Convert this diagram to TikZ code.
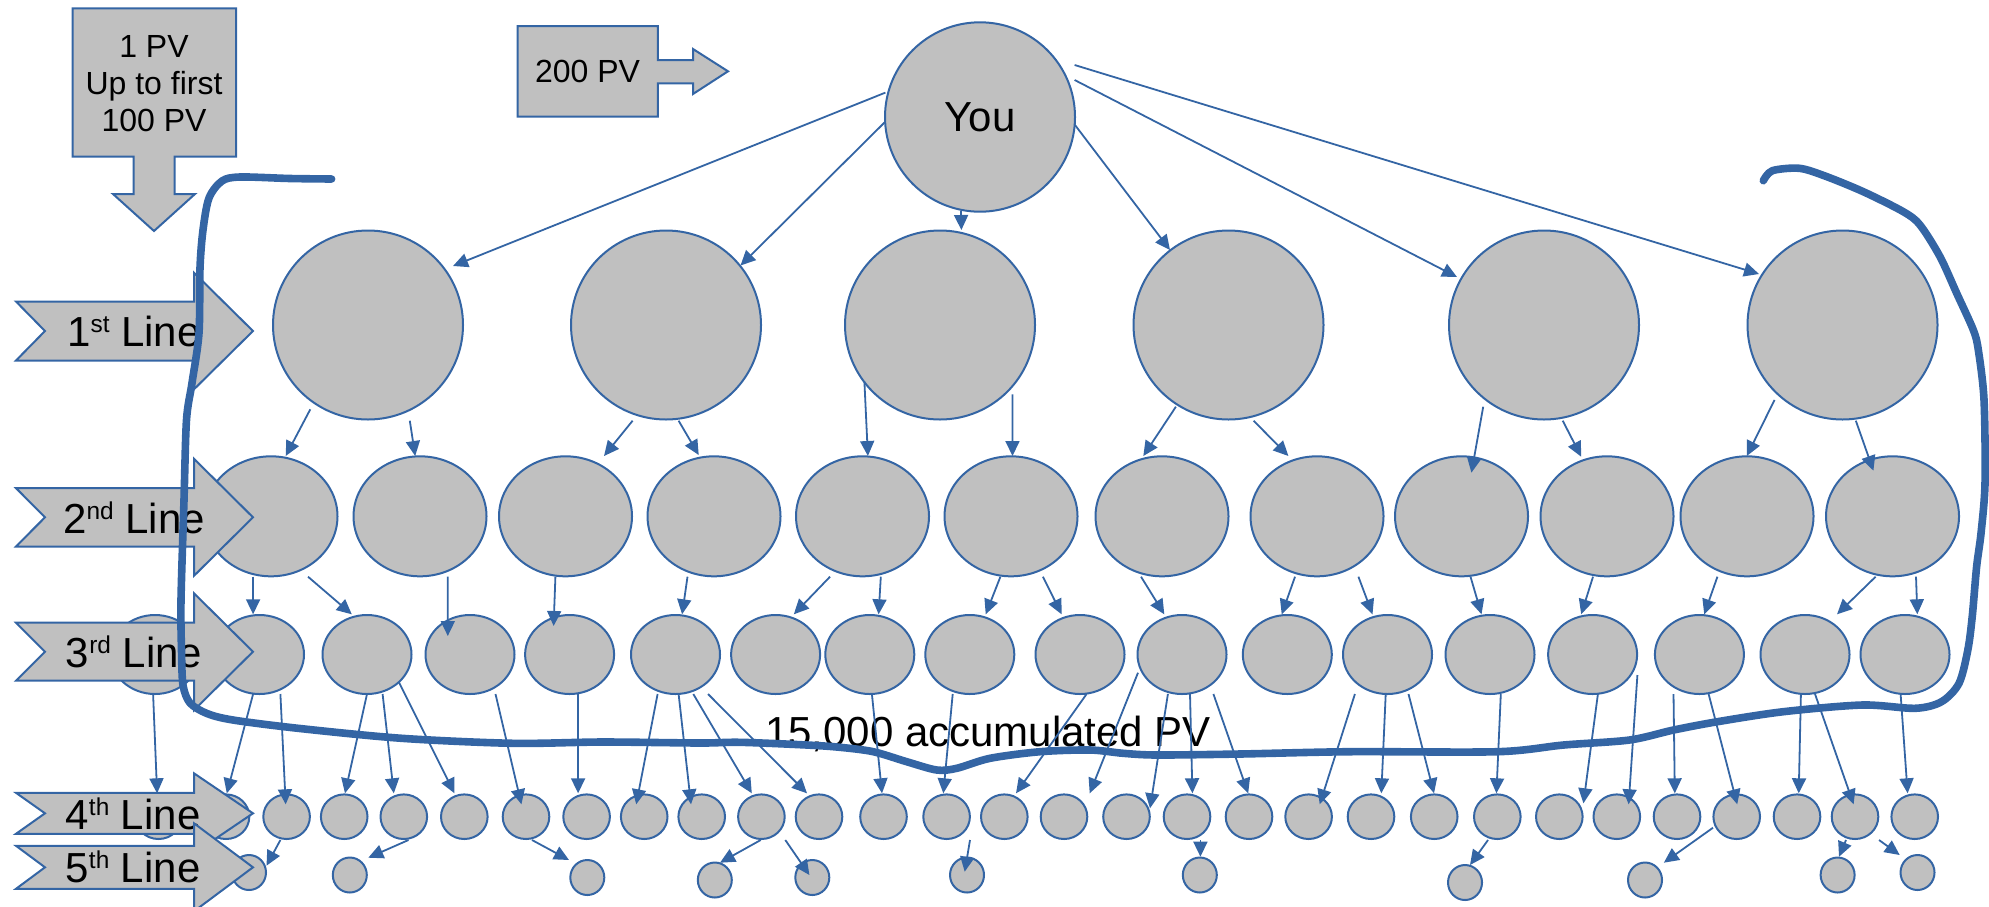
\documentclass[tikz,border=0pt]{standalone}
\usepackage{fontspec}
\setmainfont{Liberation Sans}
\usetikzlibrary{shapes.geometric,arrows.meta,calc}
\definecolor{lblue}{RGB}{52,101,164}
\definecolor{lgray}{RGB}{192,192,192}
\newcommand\conn[4]{\draw[con] ($(#1.center)+(#2)$) -- ($(#3.center)+(#4)$);}
\newcommand\levelarrow[3]{\draw[calloutshape] (16,#1-#2) -- (194,#1-#2) -- (194,#1-#3) -- (253,#1) -- (194,#1+#3) -- (194,#1+#2) -- (16,#1+#2) -- (45,#1) -- cycle;}
\newcommand\supx[1]{\raisebox{7pt}{\fontsize{12.2}{14}\selectfont #1}}
\tikzset{
 bub/.style={ellipse, draw=lblue, fill=lgray, line width=1pt, inner sep=0pt},
 bubA/.style={bub, minimum width=95pt, minimum height=94.5pt},
 bubB/.style={bub, minimum width=66.5pt, minimum height=60pt},
 bubC/.style={bub, minimum width=44.5pt, minimum height=39.5pt},
 bubD/.style={bub, minimum width=23.3pt, minimum height=22.3pt},
 bubE/.style={bub, minimum width=17pt, minimum height=17.5pt},
 con/.style={draw=lblue, line width=0.9pt, -{Triangle[length=7.5pt,width=7pt]}},
 calloutshape/.style={draw=lblue, fill=lgray, line width=1pt, line join=miter},
 bigtxt/.style={font=\fontsize{21}{25}\selectfont, inner sep=0pt, anchor=base},
 smalltxt/.style={font=\fontsize{16}{19}\selectfont, inner sep=0pt, anchor=base},
 thickline/.style={draw=lblue, line width=3.8pt, line cap=round, line join=round}
}
\begin{document}
\begin{tikzpicture}[x=0.5pt,y=-0.5pt]
\useasboundingbox (0,0) rectangle (1989,906);

% callouts
\draw[calloutshape] (72.7,8.3) -- (236,8.3) -- (236,156.7) -- (174.5,156.7) -- (174.5,194) -- (195,194) -- (154,231) -- (113,194) -- (133.5,194) -- (133.5,156.7) -- (72.7,156.7) -- cycle;
\node[smalltxt] (pv1) at (154,57.3) {1 PV};
\node[smalltxt] (pv2) at (154,94.3) {Up to first};
\node[smalltxt] (pv3) at (154,131.7) {100 PV};
\draw[calloutshape] (517.7,26) -- (657.8,26) -- (657.8,60) -- (693,60) -- (693,49) -- (728,71.3) -- (693,94) -- (693,83.3) -- (657.8,83.3) -- (657.8,116.7) -- (517.7,116.7) -- cycle;
\node[smalltxt] (pv200) at (587.5,82.7) {200 PV};

% nodes
\node[bubA, minimum height=94.7pt, font=\fontsize{21}{25}\selectfont] (you) at (980,117) {You};
\foreach \n/\x in {1/368,2/666,3/940,4/1228.5,5/1544,6/1842.5}
  \node[bubA] (a\n) at (\x,325) {};
\foreach \n/\x in {1/271,2/420,3/565.5,4/714,5/862.5,6/1011,7/1162,8/1317,9/1461.5,10/1607,11/1747,12/1892.5}
  \node[bubB] (b\n) at (\x,516.3) {};
\foreach \n/\x in {1/155,2/259.5,3/367,4/470,5/569.6,6/675.5,7/775.6,8/869.8,9/969.8,10/1080,11/1182,12/1287.3,13/1387.5,14/1490,15/1592.6,16/1699.4,17/1805,18/1905}
  \node[bubC] (c\n) at (\x,654.5) {};
\foreach \n/\x in {1/158.5,2/226,3/286.6,4/344.2,5/403.8,6/464.3,7/526,8/586.6,9/644.2,10/701.7,11/761.4,12/819,13/883.5,14/946.6,15/1004.3,16/1064,17/1126.5,18/1187,19/1249,20/1308.6,21/1371,22/1434.2,23/1497.3,24/1559.3,25/1616.8,26/1677,27/1736.7,28/1797,29/1855,30/1914.7}
  \node[bubD] (d\n) at (\x,816.7) {};
\foreach \n/\x/\y in {1/249/872.5,2/349.8/875,3/587.3/877.5,4/714.8/880,5/812.3/877.5,6/967/875,7/1199.8/875,8/1465/882.5,9/1645/880,10/1837.6/875,11/1917.5/872.5}
  \node[bubE] (e\n) at (\x,\y) {};

% text
\node[bigtxt] (acc) at (988,746) {15,000 accumulated PV};

% connectors: You -> 1st line
\conn{you}{-94.6,-24.4}{a1}{85,-59}
\conn{you}{-95.5,5.5}{a2}{74.5,-59.5}
\conn{you}{-19,94}{a3}{21.4,-95}
\conn{you}{94.6,7.5}{a4}{-58.5,-75}
\conn{you}{94.6,-37}{a5}{-87,-48}
\conn{you}{94.6,-52}{a6}{-83.5,-51}
% 1st -> 2nd
\conn{a1}{-57.7,84.3}{b1}{14.7,-60.3}
\conn{a1}{41.8,95.7}{b2}{-4.8,-60.3}
\conn{a2}{-33.4,95.7}{b3}{38.5,-60.3}
\conn{a2}{12.6,95.7}{b4}{-15.3,-61.3}
\conn{a3}{-75.6,56.7}{b5}{5.4,-60.3}
\conn{a3}{72.4,69.3}{b6}{1.5,-60.3}
\conn{a4}{-52.6,81.7}{b7}{-18.7,-60.3}
\conn{a4}{25.1,95.7}{b8}{-28.6,-60.3}
\conn{a5}{-60.8,81.7}{b9}{9.9,-43.6}
\conn{a5}{18.7,95.7}{b10}{-25.8,-59.6}
\conn{a6}{-68,75}{b11}{-0.2,-60.3}
\conn{a6}{13.3,95.7}{b12}{-19.1,-45.6}
% 2nd -> 3rd
\conn{b1}{-17.9,60.4}{c2}{-6.4,-40.2}
\conn{b1}{37,60.4}{c3}{-15.2,-40.2}
\conn{b2}{27.8,60.4}{c4}{-22.2,-18.5}
\conn{b3}{-10.1,60.4}{c5}{-16,-28.5}
\conn{b4}{-26.5,60.4}{c6}{6.6,-40.2}
\conn{b5}{-32.5,60.4}{c7}{18.2,-40.2}
\conn{b5}{18.3,60.4}{c8}{8.8,-40.2}
\conn{b6}{-10.6,60.4}{c9}{15.9,-40.2}
\conn{b6}{31.9,60.4}{c10}{-18.4,-40.2}
\conn{b7}{-21,60.4}{c11}{-17.7,-40.2}
\conn{b8}{-22,60.4}{c12}{-5.6,-40.2}
\conn{b8}{41.4,60.4}{c13}{-15,-40.2}
\conn{b9}{9,60.4}{c14}{-8.5,-40.2}
\conn{b10}{-14,60.4}{c15}{-11.4,-40.2}
\conn{b11}{-29.6,60.4}{c16}{4.8,-40.2}
\conn{b12}{-16.9,60.4}{c17}{32,-40.2}
\conn{b12}{23.5,60.4}{c18}{12.3,-40.2}
% 3rd -> 4th
\conn{c1}{-1.9,39.5}{d1}{-1.4,-23.4}
\conn{c2}{-6.4,39.5}{d2}{0.8,-23.4}
\conn{c2}{20.9,39.5}{d3}{-0.9,-12.4}
\conn{c3}{0,39.5}{d4}{0.8,-23.4}
\conn{c3}{15.6,39.5}{d5}{-10,-23.4}
\conn{c3}{31.7,27.2}{d6}{-9.8,-23.4}
\conn{c4}{25.5,39.5}{d7}{-4.6,-12.4}
\conn{c5}{8.5,39.5}{d8}{-8.5,-23.4}
\conn{c6}{-17.9,39.5}{d9}{-8,-12.4}
\conn{c6}{3.1,39.5}{d10}{-10.7,-12.4}
\conn{c6}{17.8,39.5}{d11}{-9.6,-23.4}
\conn{c6}{32.5,39.5}{d12}{-12,-23.4}
\conn{c8}{2.1,39.5}{d13}{-1.5,-23.4}
\conn{c9}{-17.1,39.5}{d14}{-3.3,-23.4}
\conn{c10}{6.6,39.5}{d15}{11.7,-23.4}
\conn{c11}{-44,18.2}{d16}{25.7,-23.4}
\conn{c11}{-14.1,39.5}{d17}{23.5,-8.4}
\conn{c11}{8,39.5}{d18}{5.4,-23.4}
\conn{c11}{31.4,39.5}{d19}{-0.8,-23.4}
\conn{c13}{-32.6,39.5}{d20}{11.1,-12.4}
\conn{c13}{-1.8,39.5}{d21}{10.3,-23.4}
\conn{c13}{21,39.5}{d22}{-0.2,-23.4}
\conn{c14}{10.8,39.5}{d23}{-0.9,-23.4}
\conn{c15}{5.3,39.5}{d24}{24.1,-13.4}
\conn{c15}{44.8,20.5}{d25}{11.8,-12.4}
\conn{c16}{-25.9,39.5}{d26}{-2.2,-23.4}
\conn{c16}{9.2,39.5}{d27}{0.5,-12.4}
\conn{c17}{-4.1,39.5}{d28}{1.7,-23.4}
\conn{c17}{10,39.5}{d29}{-1.4,-12.4}
\conn{c18}{-4.4,39.5}{d30}{-7.1,-23.4}
% 4th -> 5th
\conn{d3}{-6.2,23.3}{e1}{17.5,-6.8}
\conn{d5}{4.7,23.3}{e2}{18.5,-17.3}
\conn{d7}{6,23.3}{e3}{-18.3,-17.5}
\conn{d11}{-0.7,23.3}{e4}{5.2,-17.3}
\conn{d11}{23.9,23.3}{e5}{-2.9,-2.5}
\conn{d14}{23.4,23.3}{e6}{-2.3,-3.3}
\conn{d18}{13.4,23.3}{e7}{0.6,-18.3}
\conn{d23}{-9.3,23.3}{e8}{5,-17.5}
\conn{d27}{-23.7,11}{e9}{18.8,-17.3}
\conn{d29}{-9,23.3}{e10}{1.4,-18.3}
\conn{d29}{24,23.3}{e11}{-17.8,-17.5}

% level arrows
\levelarrow{331}{29.5}{58.3}
\node[bigtxt] (l1) at (134,346.5) {1\supx{st} Line};
\levelarrow{517.3}{29.2}{58.5}
\node[bigtxt] (l2) at (134,533) {2\supx{nd} Line};
\levelarrow{651.7}{29}{58.4}
\node[bigtxt] (l3) at (134,667) {3\supx{rd} Line};
\levelarrow{813.3}{20.5}{40}
\node[bigtxt] (l4) at (133,829.5) {4\supx{th} Line};
\levelarrow{867.3}{21.5}{44}
\node[bigtxt] (l5) at (133,882) {5\supx{th} Line};

% thick boundary line
\draw[thickline] plot[smooth, tension=0.5] coordinates {(331.6,179) (290,178.5) (240,177) (222,181) (209,198) (203,230) (200,268) (199,333) (192,383) (186.5,420) (184,500) (181,600) (181.5,650) (183,685) (190,703) (207,713.5) (233,720) (300,728.5) (401.8,738.3) (513,743.3) (602.7,742) (700,743) (740,742.3) (806.7,745) (840,747.3) (873.3,751.7) (906.7,761.7) (936.7,770) (956.7,768.3) (990,758.3) (1040,751.7) (1090,750) (1123.3,753.3) (1156.7,755) (1240,754) (1350,751.7) (1497.7,751.7) (1563.6,745) (1629.5,740) (1673.5,730) (1717.4,721.7) (1783.3,711.7) (1862.4,705) (1915,708.3) (1941.5,701.7) (1959,683.3) (1967.8,650) (1972.2,616.7) (1976.6,566.7) (1981,533.3) (1985,483) (1984,400) (1978.3,350) (1973.3,330) (1956.7,293.3) (1940,256.7) (1920,225) (1903.3,211.7) (1863.3,191.7) (1825,176) (1799.3,168.3) (1772.3,170.7) (1763.3,180.7)};
\end{tikzpicture}
\end{document}
